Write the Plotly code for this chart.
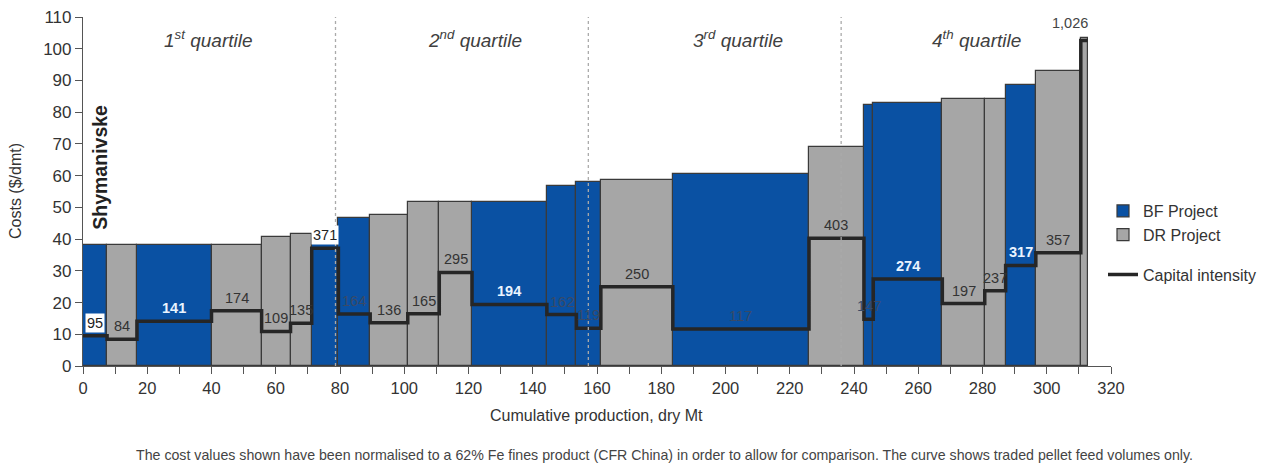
import numpy as np
import plotly.graph_objects as go

# ---------------- data ----------------
project_type = ["BF", "DR", "BF", "DR", "DR", "DR", "BF", "BF", "DR", "DR", "DR", "BF",
                "BF", "BF", "DR", "BF", "DR", "BF", "BF", "DR", "DR", "BF", "DR", "DR"]
production_mt = [7.5, 9.3, 23.2, 15.6, 9.0, 6.6, 8.3, 9.9, 11.7, 9.8, 10.2, 23.3,
                 9.2, 7.6, 22.4, 42.4, 17.1, 2.9, 21.5, 13.2, 6.5, 9.4, 14.0, 2.1]
cost_usd_dmt = [38.0, 38.0, 38.0, 38.0, 40.8, 41.6, 38.3, 46.6, 47.6, 51.8, 51.8, 51.8,
                56.6, 57.9, 58.7, 60.6, 68.9, 82.3, 82.9, 84.1, 84.1, 88.6, 93.1, 103.5]
capital_intensity = [95, 84, 141, 174, 109, 135, 371, 164, 136, 165, 295, 194,
                     162, 119, 250, 117, 403, 147, 274, 197, 237, 317, 357, 1026]
capital_labels = ["95", "84", "141", "174", "109", "135", "371", "164", "136", "165", "295", "194",
                  "162", "119", "250", "117", "403", "147", "274", "197", "237", "317", "357", "1,026"]
capital_scale = 10.0  # capital intensity plotted as value / 10 on the cost axis
quartile_bounds = [78.6, 157.3, 236.0]
quartile_names = ["1<sup>st</sup> quartile", "2<sup>nd</sup> quartile",
                  "3<sup>rd</sup> quartile", "4<sup>th</sup> quartile"]
quartile_label_x = [39, 122, 204, 278]
x_ticks = list(range(0, 321, 20))
y_ticks = list(range(0, 111, 10))

# ---------------- styles ----------------
BLUE = "#0A51A3"
GREY = "#A6A6A6"
EDGE = "#3A3A3A"
TEXT = "#333333"
FONT = "Liberation Sans, Arial, sans-serif"

label_colors = ["#222", "#333", "#EAF4FF", "#333", "#333", "#333", "#222", "#3A4A66",
                "#333", "#333", "#333", "#EAF4FF", "#3A4A66", "#3A4A66", "#333", "#3A4A66",
                "#333", "#3A4A66", "#EAF4FF", "#333", "#333", "#EAF4FF", "#333", "#444"]
label_bg = {0: "white", 6: "white"}
label_bold = {2, 11, 18, 21}

# The page body has an 8px default margin, so the figure is drawn offset by 8px.
OFF = 8
W, H = 1266 - OFF, 468 - OFF
L, T = 83 - OFF, 17 - OFF
PW, PH = 1028, 349
R, B = W - L - PW, H - T - PH


def px_to_paper(px, py):
    """Screen pixel -> paper coords."""
    return (px - OFF - L) / PW, (T + PH - (py - OFF)) / PH


# ---------------- derived geometry ----------------
widths = np.array(production_mt)
edges = np.concatenate([[0.0], np.cumsum(widths)])
mids = (edges[:-1] + edges[1:]) / 2
cap_y = np.array(capital_intensity) / capital_scale

fig = go.Figure()
for ptype, name, color in [("BF", "BF Project", BLUE), ("DR", "DR Project", GREY)]:
    idx = [i for i, t in enumerate(project_type) if t == ptype]
    fig.add_trace(go.Bar(
        x=mids[idx], y=np.array(cost_usd_dmt)[idx], width=widths[idx],
        name=name, marker=dict(color=color, line=dict(color=EDGE, width=1.2)),
        hoverinfo="x+y", legendgroup="a"))

fig.add_trace(go.Scatter(
    x=edges, y=np.append(cap_y, cap_y[-1]), mode="lines", line_shape="hv",
    line=dict(color="#262626", width=3.5), name="Capital intensity", legendgroup="b"))

# capital intensity labels
last = len(mids) - 1
for i, (xm, yv, lab) in enumerate(zip(mids, cap_y, capital_labels)):
    txt = f"<b>{lab}</b>" if i in label_bold else lab
    fig.add_annotation(
        x=xm, y=yv, text=txt, showarrow=False, yshift=17 if i == last else 13,
        xshift=-14 if i == last else 0,
        font=dict(family=FONT, size=14.5, color=label_colors[i]),
        bgcolor=label_bg.get(i, "rgba(0,0,0,0)"), borderpad=1)

# quartile dividers & labels
for qb in quartile_bounds:
    fig.add_shape(type="line", x0=qb, x1=qb, y0=0, y1=110, xref="x", yref="y",
                  line=dict(color="#AAAAAA", width=1.3, dash="dot"), layer="above")
for qx, qn in zip(quartile_label_x, quartile_names):
    fig.add_annotation(x=qx, y=103, text=f"<i>{qn}</i>", showarrow=False,
                       font=dict(family=FONT, size=19, color="#404040"))

fig.add_annotation(x=5.3, y=62.5, text="<b>Shymanivske</b>", textangle=-90, showarrow=False,
                   font=dict(family=FONT, size=19.5, color="#222222"))

# axis titles and footnote
xt = px_to_paper(596, 415)
fig.add_annotation(x=xt[0], y=xt[1], xref="paper", yref="paper", showarrow=False,
                   xanchor="center", yanchor="middle",
                   text="Cumulative production, dry Mt",
                   font=dict(family=FONT, size=16, color=TEXT))
yt = px_to_paper(15, 191)
fig.add_annotation(x=yt[0], y=yt[1], xref="paper", yref="paper", showarrow=False,
                   xanchor="center", yanchor="middle",
                   text="Costs ($/dmt)", textangle=-90,
                   font=dict(family=FONT, size=16, color=TEXT))
fn = px_to_paper(664, 455)
fig.add_annotation(
    x=fn[0], y=fn[1], xref="paper", yref="paper", showarrow=False,
    xanchor="center", yanchor="middle",
    text="The cost values shown have been normalised to a 62% Fe fines product (CFR China) "
         "in order to allow for comparison. The curve shows traded pellet feed volumes only.",
    font=dict(family=FONT, size=14.2, color="#444444"))

lg = px_to_paper(1103, 194)
fig.update_layout(
    width=W, height=H,
    margin=dict(l=L, r=R, t=T, b=B, autoexpand=False),
    paper_bgcolor="white", plot_bgcolor="white",
    barmode="overlay", bargap=0,
    font=dict(family=FONT, color=TEXT),
    showlegend=True,
    legend=dict(x=lg[0], xanchor="left", y=lg[1], yanchor="top",
                font=dict(family=FONT, size=16, color=TEXT),
                tracegroupgap=16, bgcolor="rgba(0,0,0,0)", itemwidth=30),
    xaxis=dict(range=[0, 320], tickvals=x_ticks, ticks="outside", ticklen=7,
               tickcolor="#555", showline=True, linecolor="#555", linewidth=1.2,
               showgrid=False, zeroline=False, automargin=False,
               ticklabeloverflow="allow",
               minor=dict(dtick=10, ticks="outside", ticklen=7, tickcolor="#555"),
               tickfont=dict(family=FONT, size=16.5, color=TEXT)),
    yaxis=dict(range=[0, 110], tickvals=y_ticks, ticks="outside", ticklen=7,
               tickcolor="#555", showline=True, linecolor="#555", linewidth=1.2,
               showgrid=False, zeroline=False, automargin=False,
               ticklabeloverflow="allow",
               tickfont=dict(family=FONT, size=17, color=TEXT)),
)

fig.write_html("out.html")
